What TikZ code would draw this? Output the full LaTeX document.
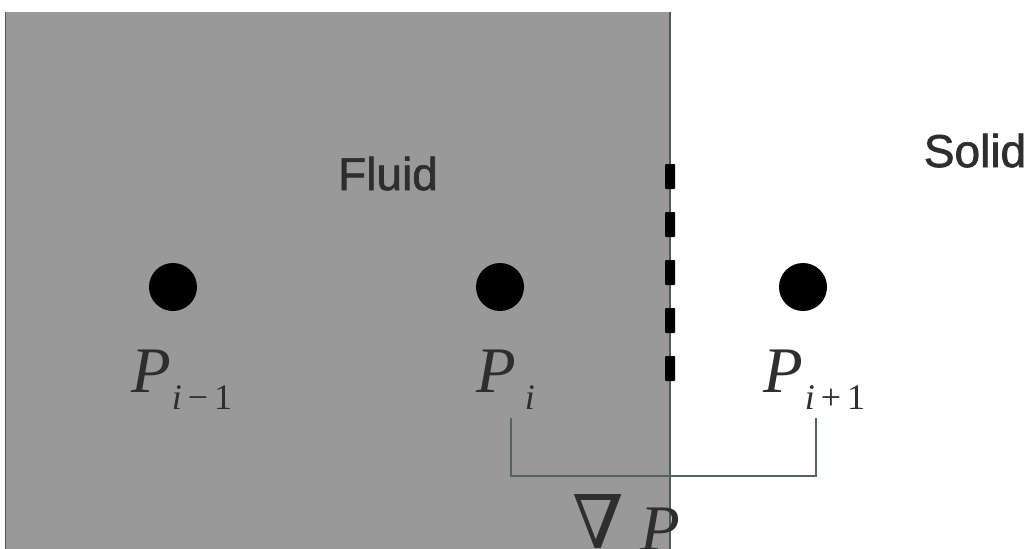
\documentclass[tikz,border=0pt]{standalone}
\usepackage{fontspec}
\newfontfamily\labelsans[RawFeature={embolden=1.5}]{Liberation Sans}
\newfontfamily\labelserif{Liberation Serif}
\newfontfamily\symfont{DejaVu Serif}
\definecolor{fluidgray}{HTML}{999999}
\definecolor{wallline}{HTML}{4B5B5B}
\definecolor{inkgray}{HTML}{2E2E2E}
\definecolor{bracketcol}{HTML}{55625F}
\tikzset{
  x=1pt, y=-1pt,
  regionlabel/.style={inner sep=0pt, text=inkgray, font=\labelsans\fontsize{46}{46}\selectfont},
  nodedot/.style={circle, fill=black, minimum size=48pt, inner sep=0pt},
  plabel/.style={inner sep=0pt, anchor=base west, text=inkgray},
  wallmark/.style={fill=black, rounded corners=1pt},
  bracketline/.style={draw=bracketcol, line width=1.5pt},
}
% P with a lowered, smaller index
\newcommand{\plab}[2]{\labelserif\fontsize{65}{65}\selectfont\textit{P}\hspace{#2}\raisebox{-17pt}{\fontsize{36}{36}\selectfont #1}}
\begin{document}
\begin{tikzpicture}
\useasboundingbox (0,0) rectangle (1034,549);
\fill[white] (0,0) rectangle (1034,549);
% fluid region
\fill[fluidgray] (5,12) rectangle (670,549);
\draw[wallline, line width=1pt] (5.5,12) -- (5.5,549);
% interface
\draw[wallline, line width=2pt] (670,12) -- (670,549);
\foreach \yy in {164,212,260,308,356}
  \fill[wallmark] (665,\yy) rectangle (675,\yy+25);
% region labels
\node[regionlabel, anchor=base] (fluid) at (388,190) {Fluid};
\node[regionlabel, anchor=base] (solid) at (975,167) {Solid};
% sample points
\node[nodedot] (pim1) at (173,287) {};
\node[nodedot] (pi) at (500,287) {};
\node[nodedot] (pip1) at (803,287) {};
\node[plabel] (lpim1) at (131,392) {\plab{\textit{i}\,−\,1}{1pt}};
\node[plabel] (lpi) at (476,392) {\plab{\textit{i}}{9pt}};
\node[plabel] (lpip1) at (763,392) {\plab{\textit{i}\,+\,1}{2pt}};
% gradient bracket
\coordinate (bl) at (511,418);
\coordinate (br) at (816,418);
\draw[bracketline] (bl) -- ++(0,58) -| (br);
% gradient label
\node[inner sep=0pt, anchor=base west, text=inkgray] (nabla) at (572,548) {\symfont\fontsize{74}{74}\selectfont ∇};
\node[plabel] (gp) at (640,550) {\labelserif\fontsize{65}{65}\selectfont\textit{P}};
\end{tikzpicture}
\end{document}
